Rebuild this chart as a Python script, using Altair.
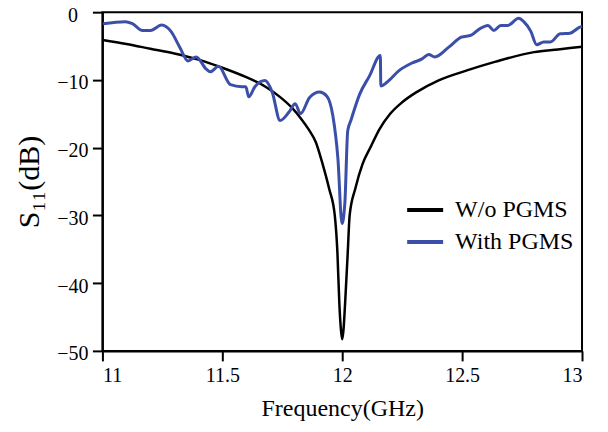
import altair as alt
import pandas as pd

# W/o PGMS (black)
freq_wo = [11.00, 11.10, 11.20, 11.30, 11.40, 11.50, 11.60, 11.68, 11.74, 11.79,
           11.83, 11.86, 11.89, 11.918, 11.945, 11.969, 11.980, 11.988, 11.995, 12.000,
           12.005, 12.012, 12.023, 12.031, 12.055, 12.085, 12.12, 12.155, 12.20, 12.25,
           12.31, 12.40, 12.52, 12.64, 12.80, 12.90, 13.00]
s11_wo = [-4.1, -4.7, -5.4, -6.1, -7.0, -8.2, -9.6, -11.0, -12.5, -14.1,
          -15.8, -17.3, -19.2, -22.4, -26.0, -30.0, -35.5, -43.0, -47.0, -48.3,
          -47.0, -43.0, -35.5, -30.0, -26.0, -22.4, -19.8, -17.3, -15.0, -13.3,
          -11.8, -10.1, -8.6, -7.3, -5.9, -5.5, -5.1]

# With PGMS (blue)
freq_with = [11.002, 11.095, 11.125, 11.167, 11.201, 11.247, 11.285, 11.323, 11.357, 11.391,
             11.433, 11.450, 11.484, 11.534, 11.581, 11.598, 11.610, 11.636, 11.678, 11.708,
             11.741, 11.779, 11.804, 11.826, 11.864, 11.906, 11.936, 11.961, 11.982, 11.999,
             12.011, 12.023, 12.036, 12.073, 12.114, 12.159, 12.161, 12.188, 12.238, 12.291,
             12.333, 12.361, 12.386, 12.443, 12.497, 12.538, 12.571, 12.608, 12.632, 12.661,
             12.690, 12.736, 12.757, 12.786, 12.811, 12.840, 12.868, 12.909, 12.950, 12.991,
             13.0]
s11_with = [-1.7, -1.4, -1.7, -2.7, -2.7, -1.9, -2.8, -5.2, -7.2, -6.6,
            -8.4, -8.8, -8.0, -10.7, -11.0, -11.0, -12.5, -11.0, -10.1, -11.8,
            -16.0, -14.7, -13.5, -15.0, -12.6, -11.8, -12.4, -15.3, -21.6, -31.2,
            -28.2, -17.5, -16.0, -12.1, -9.4, -6.4, -10.9, -10.3, -8.6, -7.5,
            -6.9, -6.25, -6.6, -5.2, -3.7, -3.4, -2.5, -1.95, -2.7, -1.95,
            -1.95, -0.9, -1.4, -2.8, -4.8, -4.4, -4.4, -3.2, -3.1, -2.2,
            -2.1]

series_names = ["W/o PGMS", "With PGMS"]
series_colors = ["#000000", "#3b4fa8"]
x_ticks = [11, 11.5, 12, 12.5, 13]
y_ticks = [0, -10, -20, -30, -40, -50]

df_wo = pd.DataFrame({"f": freq_wo, "s": s11_wo, "series": series_names[0]})
df_with = pd.DataFrame({"f": freq_with, "s": s11_with, "series": series_names[1]})

x_enc = alt.X("f:Q", scale=alt.Scale(domain=[11, 13], nice=False),
              axis=alt.Axis(values=x_ticks, format="~g", title="Frequency(GHz)",
                            labelPadding=5, titlePadding=11, titleFontSize=24))
y_enc = alt.Y("s:Q", scale=alt.Scale(domain=[-50, 0], nice=False),
              axis=alt.Axis(values=y_ticks, format="d", title="S₁₁(dB)",
                            labelAlign="center", labelPadding=20, labelOffset=3,
                            titlePadding=12, titleFontSize=30))
color_enc = alt.Color("series:N",
                      scale=alt.Scale(domain=series_names, range=series_colors),
                      legend=alt.Legend(orient="none", legendX=303, legendY=178, title=None,
                                        symbolType="stroke", symbolSize=1296,
                                        symbolStrokeWidth=4, labelFontSize=24,
                                        labelFont="Liberation Serif", labelColor="black",
                                        rowPadding=0, labelOffset=10, padding=0))

black = alt.Chart(df_wo).mark_line(strokeWidth=2.5, interpolate="monotone").encode(
    x=x_enc, y=y_enc, color=color_enc)
blue = alt.Chart(df_with).mark_line(strokeWidth=3, interpolate="monotone").encode(
    x=x_enc, y=y_enc, color=color_enc)

chart = alt.layer(black, blue).properties(
    width=480, height=339,
    autosize=alt.AutoSizeParams(type="none"),
    padding={"left": 94.5, "top": 4, "right": 18, "bottom": 73},
).configure_view(
    stroke="black", strokeWidth=2
).configure_axis(
    grid=False, domainColor="black", domainWidth=2, tickColor="black", tickWidth=2,
    tickSize=10, labelFont="Liberation Serif", labelFontSize=20, labelColor="black",
    titleFont="Liberation Serif", titleFontWeight="normal", titleColor="black"
)

chart.save("out.html", embed_options={"renderer": "svg", "actions": False})
